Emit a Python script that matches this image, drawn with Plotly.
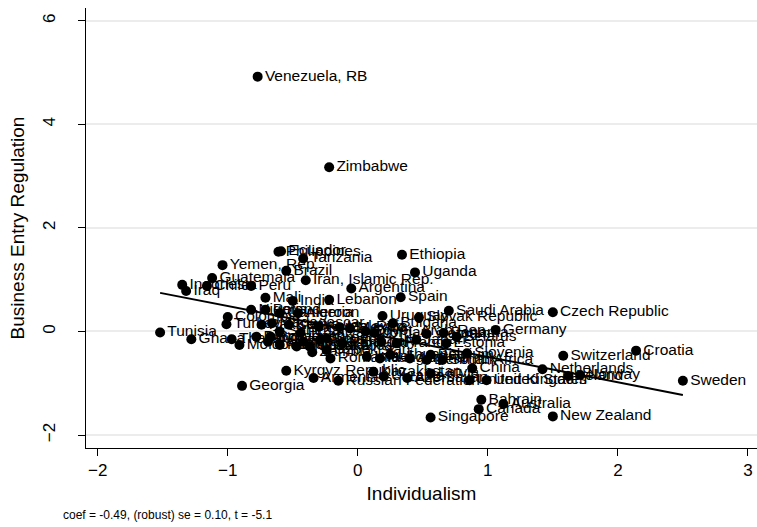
import plotly.graph_objects as go

countries = [
    "Venezuela, RB", "Zimbabwe", "Philippines", "Ecuador", "Tanzania", "Yemen, Rep.",
    "Brazil", "Guatemala", "Iran, Islamic Rep.", "Indonesia", "Iraq", "Chile", "Peru",
    "Argentina", "Mali", "India", "Lebanon", "Ethiopia", "Uganda", "Spain",
    "Saudi Arabia", "Czech Republic", "Uruguay", "Slovak Republic", "Bulgaria",
    "Germany", "Vietnam", "Belarus", "Nigeria", "Poland", "Algeria", "Colombia",
    "Turkey", "Tunisia", "Ghana", "Thailand", "Moldova", "Korea, Rep.", "Pakistan",
    "Kenya", "Malaysia", "Mexico", "Egypt, Arab Rep.", "Jordan", "Bangladesh",
    "Bolivia", "Senegal", "El Salvador", "Nicaragua", "Greece", "Portugal", "Italy",
    "France", "Japan", "Panama", "Estonia", "Romania", "Israel", "Hungary",
    "Lithuania", "Austria", "Belgium", "Denmark", "South Africa", "Slovenia", "China",
    "Latvia", "Kazakhstan", "Ukraine", "Azerbaijan", "United Kingdom", "United States",
    "Kyrgyz Republic", "Armenia", "Russian Federation", "Georgia", "Switzerland",
    "Croatia", "Netherlands", "Ireland", "Norway", "Sweden", "Bahrain", "Canada",
    "Australia", "Singapore", "New Zealand", "Zambia", "Paraguay", "Sri Lanka",
    "Honduras", "Costa Rica", "Jamaica", "Uzbekistan", "Cameroon", "Madagascar",
]

individualism = [
    -0.77, -0.22, -0.61, -0.59, -0.42, -1.04,
    -0.55, -1.12, -0.40, -1.35, -1.32, -1.16, -0.82,
    -0.05, -0.71, -0.50, -0.22, 0.34, 0.44, 0.33,
    0.70, 1.50, 0.19, 0.47, 0.27,
    1.06, 0.53, 0.76, -0.82, -0.71, -0.46, -1.00,
    -1.01, -1.52, -1.28, -0.97, -0.91, -0.30, -0.74,
    -0.53, -0.14, -0.06, 0.06, 0.13, -0.78,
    -0.67, -0.60, -0.44, -0.42, -0.24, -0.12, 0.18,
    0.30, 0.45, 0.66, 0.68, -0.21, 0.07, 0.17,
    0.25, 0.40, 0.56, 0.53, 0.65, 0.84, 0.88,
    0.56, 0.12, 0.20, 0.38, 0.86, 0.99,
    -0.55, -0.34, -0.15, -0.89, 1.58,
    2.14, 1.42, 1.62, 1.71, 2.50, 0.95, 0.93,
    1.12, 0.56, 1.50, -0.35, -0.69, -0.47,
    -0.60, -0.37, -0.29, -0.24, -0.60, -0.66,
]

entry_regulation = [
    4.92, 3.17, 1.54, 1.55, 1.41, 1.28,
    1.17, 1.03, 0.99, 0.90, 0.78, 0.88, 0.88,
    0.83, 0.65, 0.59, 0.61, 1.48, 1.14, 0.66,
    0.40, 0.37, 0.30, 0.27, 0.16,
    0.03, -0.05, -0.10, 0.42, 0.42, 0.35, 0.28,
    0.14, -0.02, -0.15, -0.15, -0.26, 0.09, 0.13,
    0.13, 0.08, 0.06, 0.00, -0.03, -0.10,
    -0.10, 0.00, -0.03, -0.20, -0.13, -0.23, -0.20,
    -0.23, -0.16, -0.03, -0.23, -0.52, -0.49, -0.52,
    -0.45, -0.52, -0.45, -0.55, -0.55, -0.42, -0.71,
    -0.81, -0.78, -0.87, -0.90, -0.94, -0.94,
    -0.76, -0.90, -0.95, -1.05, -0.47,
    -0.37, -0.73, -0.86, -0.84, -0.95, -1.32, -1.50,
    -1.40, -1.66, -1.64, -0.40, -0.20, -0.29,
    -0.26, -0.29, -0.16, -0.36, 0.35, 0.16,
]

coef = -0.49
intercept = 0.0
x_ticks = [-2, -1, 0, 1, 2, 3]
y_ticks = [-2, 0, 2, 4, 6]
note = "coef = -0.49, (robust) se = 0.10, t = -5.1"

axis_font = "Liberation Sans, Arial, sans-serif"
label_font = "Liberation Sans, Arial, sans-serif"

fig = go.Figure()
fig.add_trace(go.Scatter(
    x=individualism, y=entry_regulation, text=countries,
    mode="markers+text", textposition="middle right",
    marker=dict(color="black", size=10),
    textfont=dict(family=label_font, size=15.5, color="black"),
    showlegend=False, hoverinfo="text",
))

xmin, xmax = min(individualism), max(individualism)
fig.add_trace(go.Scatter(
    x=[xmin, xmax], y=[intercept + coef * xmin, intercept + coef * xmax],
    mode="lines", line=dict(color="black", width=2),
    showlegend=False, hoverinfo="skip",
))

fig.update_layout(
    width=757, height=527,
    margin=dict(l=86, r=0, t=8, b=79, pad=0),
    plot_bgcolor="white", paper_bgcolor="white",
    font=dict(family=axis_font, color="black"),
    xaxis=dict(
        range=[-2.09, 3.07], tickvals=x_ticks, ticks="outside", ticklen=7,
        tickcolor="black", tickwidth=1, showline=True, linecolor="black",
        linewidth=1, showgrid=False, zeroline=False,
        tickfont=dict(family=axis_font, size=17),
        title=dict(text="Individualism", font=dict(family=axis_font, size=19), standoff=7),
    ),
    yaxis=dict(
        range=[-2.25, 6.245], tickvals=y_ticks, ticks="outside", ticklen=7,
        tickcolor="black", tickwidth=1, showline=True, linecolor="black",
        linewidth=1, showgrid=True, gridcolor="#ececec", gridwidth=1.5,
        zeroline=False, tickangle=-90, ticklabelstandoff=16,
        tickfont=dict(family=axis_font, size=17),
        title=dict(text="Business Entry Regulation", font=dict(family=axis_font, size=19), standoff=10),
    ),
    annotations=[dict(
        text=note, xref="paper", yref="paper", x=-0.037, y=-0.152,
        xanchor="left", yanchor="middle", showarrow=False,
        font=dict(family=axis_font, size=12, color="black"),
    )],
)

fig.write_html("out.html")
